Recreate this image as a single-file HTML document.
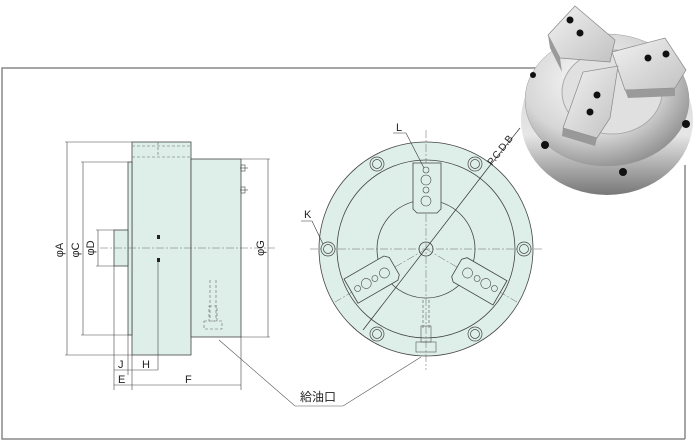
<!DOCTYPE html>
<html><head><meta charset="utf-8"><style>
html,body{margin:0;padding:0;background:#fff;width:700px;height:442px;overflow:hidden}
svg{display:block}
text{font-family:"Liberation Sans","Noto Sans CJK JP",sans-serif;fill:#222}
</style></head><body>
<svg width="700" height="442" viewBox="0 0 700 442" xmlns="http://www.w3.org/2000/svg">
<defs>
<radialGradient id="met" cx="40%" cy="35%" r="70%">
<stop offset="0" stop-color="#fafafa"/><stop offset="0.6" stop-color="#d6d6d6"/><stop offset="1" stop-color="#8c8c8c"/>
</radialGradient>
<linearGradient id="base" x1="0" y1="0" x2="0" y2="1"><stop offset="0" stop-color="#cfcfcf"/><stop offset="0.6" stop-color="#e6e6e6"/><stop offset="1" stop-color="#777"/></linearGradient>
<linearGradient id="jaw" x1="0" y1="0" x2="1" y2="1"><stop offset="0" stop-color="#f2f2f2"/><stop offset="1" stop-color="#c2c2c2"/></linearGradient>
</defs>
<!-- frame -->
<polyline points="685,439 2,439 2,68 540,68" fill="none" stroke="#888" stroke-width="1.5"/>
<line x1="685" y1="165" x2="685" y2="439" stroke="#888" stroke-width="1.5"/>

<!-- left view -->
<g stroke="#444" stroke-width="0.8" fill="#ddefe8">
<rect x="132" y="142" width="59" height="213"/>
<rect x="191" y="159" width="50" height="178"/>
<rect x="128" y="162" width="4" height="173"/>
<rect x="114" y="230" width="14" height="36"/>
</g>
<g stroke="#666" stroke-width="0.6" fill="none" stroke-dasharray="3,2">
<line x1="132" y1="146" x2="191" y2="146"/><line x1="132" y1="157" x2="191" y2="157"/>
<line x1="158" y1="142" x2="158" y2="157"/>
<line x1="210" y1="280" x2="210" y2="318"/><line x1="216" y1="280" x2="216" y2="318"/>
<rect x="209" y="306" width="8" height="15"/><rect x="204" y="321" width="18" height="8"/>
</g>
<line x1="100" y1="248" x2="275" y2="248" stroke="#666" stroke-width="0.5" stroke-dasharray="8,2,2,2"/>
<rect x="157" y="235" width="3" height="4" fill="#222"/><rect x="157" y="258" width="3" height="4" fill="#222"/>
<line x1="158" y1="262" x2="158" y2="370" stroke="#444" stroke-width="0.6"/>
<g stroke="#444" stroke-width="0.6"><line x1="240" y1="168" x2="248" y2="168"/><line x1="240" y1="190" x2="248" y2="190"/><rect x="241" y="165" width="4" height="6" fill="none"/><rect x="241" y="187" width="4" height="6" fill="none"/></g>
<!-- dimension lines -->
<g stroke="#444" stroke-width="0.6" fill="none">
<line x1="65" y1="142" x2="132" y2="142"/><line x1="65" y1="355" x2="132" y2="355"/><line x1="67" y1="142" x2="67" y2="355"/>
<line x1="81" y1="162" x2="128" y2="162"/><line x1="81" y1="335" x2="128" y2="335"/><line x1="83" y1="162" x2="83" y2="335"/>
<line x1="96" y1="230" x2="114" y2="230"/><line x1="96" y1="266" x2="114" y2="266"/><line x1="98" y1="230" x2="98" y2="266"/>
<line x1="241" y1="159" x2="270" y2="159"/><line x1="241" y1="337" x2="270" y2="337"/><line x1="268" y1="159" x2="268" y2="337"/>
<line x1="114" y1="266" x2="114" y2="390"/><line x1="128" y1="335" x2="128" y2="375"/><line x1="132" y1="355" x2="132" y2="390"/>
<line x1="241" y1="337" x2="241" y2="390"/>
<line x1="114" y1="370" x2="158" y2="370"/><line x1="114" y1="385" x2="241" y2="385"/>
</g>
<g font-size="11">
<text transform="translate(63,250) rotate(-90)" text-anchor="middle">φA</text>
<text transform="translate(79,250) rotate(-90)" text-anchor="middle">φC</text>
<text transform="translate(94,248) rotate(-90)" text-anchor="middle">φD</text>
<text transform="translate(264,248) rotate(-90)" text-anchor="middle">φG</text>
<text x="118" y="368">J</text><text x="142" y="368">H</text>
<text x="118" y="383">E</text><text x="185" y="383">F</text>
</g>

<!-- front view -->
<g stroke="#444" stroke-width="0.8">
<circle cx="426" cy="249" r="107" fill="#ddefe8"/>
<circle cx="426" cy="249" r="89" fill="none"/>
<circle cx="426" cy="249" r="49" fill="none"/>
<circle cx="426" cy="249" r="7" fill="none"/>
</g>
<g stroke="#666" stroke-width="0.5" stroke-dasharray="8,2,2,2">
<line x1="310" y1="249" x2="542" y2="249"/><line x1="426" y1="130" x2="426" y2="370"/>
<line x1="426" y1="249" x2="335" y2="302"/><line x1="426" y1="249" x2="517" y2="302"/>
</g>
<g stroke="#444" stroke-width="0.8" fill="#ddefe8">
<path d="M413,163 h28 v46 l-4,4 h-20 l-4,-4z"/>
<g transform="rotate(120 426 249)"><path d="M413,163 h28 v46 l-4,4 h-20 l-4,-4z"/></g>
<g transform="rotate(240 426 249)"><path d="M413,163 h28 v46 l-4,4 h-20 l-4,-4z"/></g>
</g>
<g stroke="#444" stroke-width="0.6" fill="none">
<circle cx="426" cy="170" r="3"/><circle cx="426" cy="180" r="5"/><circle cx="426" cy="190" r="3"/><circle cx="426" cy="201" r="5"/>
<g transform="rotate(120 426 249)"><circle cx="426" cy="170" r="3"/><circle cx="426" cy="180" r="5"/><circle cx="426" cy="190" r="3"/><circle cx="426" cy="201" r="5"/></g>
<g transform="rotate(240 426 249)"><circle cx="426" cy="170" r="3"/><circle cx="426" cy="180" r="5"/><circle cx="426" cy="190" r="3"/><circle cx="426" cy="201" r="5"/></g>
</g>
<g stroke="#444" stroke-width="0.7" fill="#ddefe8">
<circle cx="328" cy="249" r="7"/><circle cx="328" cy="249" r="4.5"/>
<circle cx="524" cy="249" r="7"/><circle cx="524" cy="249" r="4.5"/>
<circle cx="377" cy="164" r="7"/><circle cx="377" cy="164" r="4.5"/>
<circle cx="475" cy="164" r="7"/><circle cx="475" cy="164" r="4.5"/>
<circle cx="377" cy="334" r="7"/><circle cx="377" cy="334" r="4.5"/>
<circle cx="475" cy="334" r="7"/><circle cx="475" cy="334" r="4.5"/>
</g>
<g stroke="#555" stroke-width="0.6" fill="none">
<line x1="423" y1="300" x2="423" y2="330" stroke-dasharray="3,2"/><line x1="429" y1="300" x2="429" y2="330" stroke-dasharray="3,2"/>
<rect x="421" y="326" width="10" height="16"/><rect x="416" y="342" width="20" height="10"/>
</g>
<line x1="363" y1="330" x2="488" y2="168" stroke="#333" stroke-width="0.7"/>
<line x1="488" y1="168" x2="520" y2="128" stroke="#333" stroke-width="0.7"/>
<text transform="translate(492,166) rotate(-52)" font-size="10">P.C.D.B</text>
<text x="396" y="131" font-size="11">L</text>
<polyline points="393,133 406,133 424,168" fill="none" stroke="#333" stroke-width="0.6"/>
<text x="304" y="218" font-size="11">K</text>
<polyline points="301,221 312,221 323,244" fill="none" stroke="#333" stroke-width="0.6"/>
<polyline points="219,340 295,406 343,406 421,357" fill="none" stroke="#555" stroke-width="0.6"/>
<text x="300" y="401" font-size="12">給油口</text>

<!-- photo -->
<g>
<ellipse cx="607" cy="120" rx="86" ry="75" fill="url(#base)"/>
<ellipse cx="607" cy="100" rx="82" ry="66" fill="url(#met)" stroke="#999" stroke-width="0.5"/>
<ellipse cx="612" cy="92" rx="50" ry="42" fill="#e0e0e0" stroke="#aaa"/>
<polygon points="548,35 575,6 615,40 610,62 560,58" fill="url(#jaw)" stroke="#888" stroke-width="0.7"/>
<polygon points="548,35 560,58 562,72 550,48" fill="#9a9a9a"/>
<polygon points="612,52 665,38 686,70 675,88 625,90" fill="url(#jaw)" stroke="#888" stroke-width="0.7"/>
<polygon points="625,90 675,88 675,96 628,98" fill="#9a9a9a"/>
<polygon points="563,128 583,72 618,66 610,118 597,138" fill="url(#jaw)" stroke="#888" stroke-width="0.7"/>
<polygon points="563,128 597,138 595,146 562,136" fill="#999"/>
<g fill="#111">
<circle cx="570" cy="20" r="3.5"/><circle cx="580" cy="33" r="3.5"/>
<circle cx="648" cy="58" r="3.5"/><circle cx="666" cy="54" r="3.5"/>
<circle cx="597" cy="95" r="3.5"/><circle cx="590" cy="112" r="3.5"/>
<circle cx="545" cy="145" r="4"/><circle cx="623" cy="172" r="4"/><circle cx="686" cy="124" r="4"/><circle cx="533" cy="75" r="3"/>
</g>
</g>
</svg>
</body></html>
